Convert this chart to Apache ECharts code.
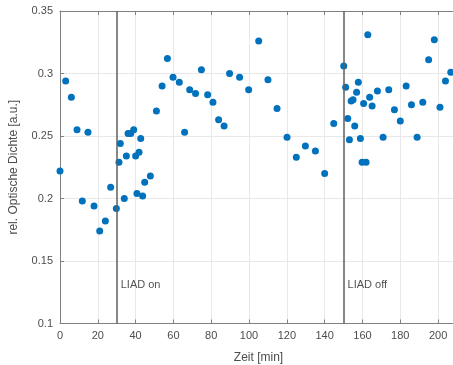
<!DOCTYPE html>
<html>
<head>
<meta charset="utf-8">
<script src="https://cdn.jsdelivr.net/npm/echarts@6/dist/echarts.min.js"></script>
<style>
  html, body { margin: 0; padding: 0; background: #fff; }
  #chart { width: 453px; height: 365px; }
</style>
</head>
<body>
<div id="chart"></div>
<script>
// Measurement times in minutes
const timeMin = [
  0, 3, 6, 9, 11.8, 14.8, 18, 21, 24, 26.8, 29.8, 31.2, 31.9, 34, 35.1, 36, 37.4, 39,
  40, 40.7, 41.8, 42.7, 43.7, 44.8, 47.8, 51, 54, 56.8, 59.8, 63.1, 65.9, 68.6, 71.7,
  74.8, 78.1, 80.9, 83.9, 86.8, 89.7, 95, 99.8, 105.1, 110, 114.8, 120.1, 125, 129.8,
  135.1, 140, 144.8, 150.1, 151.1, 152.2, 153.1, 154, 155, 155.9, 156.9, 157.8, 158.9,
  159.8, 160.6, 161.9, 162.8, 163.8, 165.1, 167.9, 170.9, 173.9, 176.9, 180, 183.1,
  185.9, 188.9, 191.9, 195, 198, 201, 203.9, 206.7
];
// Relative optical density [a.u.]
const density = [
  0.222, 0.294, 0.281, 0.255, 0.198, 0.253, 0.194, 0.174, 0.182, 0.209, 0.192, 0.229,
  0.244, 0.200, 0.234, 0.252, 0.252, 0.255, 0.234, 0.204, 0.237, 0.248, 0.202, 0.213,
  0.218, 0.270, 0.290, 0.312, 0.297, 0.293, 0.253, 0.287, 0.284, 0.303, 0.283, 0.277,
  0.263, 0.258, 0.300, 0.297, 0.287, 0.326, 0.295, 0.272, 0.249, 0.233, 0.242, 0.238,
  0.220, 0.260, 0.306, 0.289, 0.264, 0.247, 0.278, 0.279, 0.258, 0.285, 0.293, 0.248,
  0.229, 0.276, 0.229, 0.331, 0.281, 0.274, 0.286, 0.249, 0.287, 0.271, 0.262, 0.290,
  0.275, 0.249, 0.277, 0.311, 0.327, 0.273, 0.294, 0.301
];
// LIAD switching events
const eventTimes = [30, 150];
const eventLabels = ['LIAD on', 'LIAD off'];
const eventLabelY = 0.131;

// Axis settings
const xTicks = { min: 0, max: 210, interval: 20 };
const yTicks = { min: 0.1, max: 0.35, interval: 0.05 };

const axisGrey = '#808080';
const textGrey = '#4d4d4d';
const fontFam = '"Liberation Sans", Arial, Helvetica, sans-serif';

const points = timeMin.map((t, i) => [t, density[i]]);
const eventText = eventTimes.map((t, i) => [t, eventLabelY, eventLabels[i]]);

const chart = echarts.init(document.getElementById('chart'), null, { renderer: 'canvas' });

const baseX = {
  type: 'value',
  min: xTicks.min, max: xTicks.max, interval: xTicks.interval,
  axisLine: { show: true, onZero: false, lineStyle: { color: axisGrey, width: 1 } },
  axisTick: { show: true, inside: true, length: 4, lineStyle: { color: axisGrey } },
  splitLine: { show: false }
};

chart.setOption({
  animation: false,
  backgroundColor: '#ffffff',
  // plot box runs past the right edge of the canvas
  grid: { left: 60, width: 397, top: 11, bottom: 41.5, containLabel: false, outerBoundsMode: 'none' },
  xAxis: [
    Object.assign({}, baseX, {
      position: 'bottom',
      name: 'Zeit [min]',
      nameLocation: 'middle',
      nameGap: 28,
      nameTextStyle: { color: textGrey, fontSize: 12, fontFamily: fontFam },
      axisLabel: { color: textGrey, fontSize: 11, fontFamily: fontFam, margin: 7, showMaxLabel: false },
      splitLine: { show: true, lineStyle: { color: '#e8e8e8', width: 1 } }
    }),
    Object.assign({}, baseX, {
      position: 'top',
      axisLabel: { show: false }
    })
  ],
  yAxis: {
    type: 'value',
    min: yTicks.min, max: yTicks.max, interval: yTicks.interval,
    name: 'rel. Optische Dichte [a.u.]',
    nameLocation: 'middle',
    nameGap: 40,
    nameTextStyle: { color: textGrey, fontSize: 12, fontFamily: fontFam },
    axisLine: { show: true, onZero: false, lineStyle: { color: axisGrey, width: 1 } },
    axisTick: { show: true, inside: true, length: 4, lineStyle: { color: axisGrey } },
    axisLabel: { color: textGrey, fontSize: 11, fontFamily: fontFam, margin: 7 },
    splitLine: { show: true, lineStyle: { color: '#e8e8e8', width: 1 } }
  },
  series: [
    {
      type: 'scatter',
      data: points,
      symbol: 'circle',
      symbolSize: 7,
      itemStyle: { color: '#0072BD', opacity: 1 },
      z: 3,
      markLine: {
        silent: true,
        symbol: 'none',
        label: { show: false },
        lineStyle: { color: '#5f5f5f', width: 1.5, type: 'solid' },
        data: eventTimes.map(t => ({ xAxis: t }))
      }
    },
    {
      type: 'scatter',
      data: eventText,
      symbolSize: 0,
      silent: true,
      label: {
        show: true,
        position: 'right',
        distance: 4,
        formatter: p => p.data[2],
        color: '#262626',
        fontSize: 11,
        fontFamily: fontFam
      },
      z: 4
    }
  ]
});
</script>
</body>
</html>
